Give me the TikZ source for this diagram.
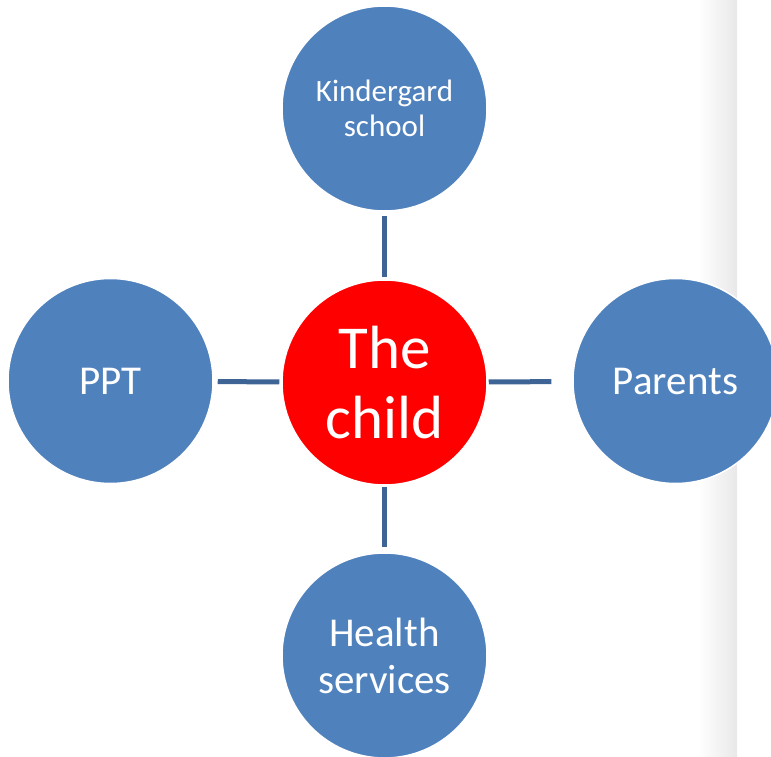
\documentclass[tikz,border=0pt]{standalone}
\usepackage{fontspec}
\setmainfont{Carlito}
\definecolor{petalblue}{RGB}{79,129,189}
\definecolor{stemblue}{RGB}{62,100,150}
\tikzset{
  petal/.style={circle,fill=petalblue,draw=white,line width=1.5pt,minimum size=205pt,inner sep=0pt,
    text=white,align=center,font=\fontsize{41}{47}\selectfont},
  core/.style={petal,fill=red,font=\fontsize{61}{70}\selectfont},
  stem/.style={draw=stemblue,line width=5pt}
}

\begin{document}
\begin{tikzpicture}[x=1pt,y=-1pt]
      \useasboundingbox (0,0) rectangle (771,757);
      \shade[left color=white,right color=black!9] (698,0) rectangle (737,757);
      \node[core] (C) at (384.5,382.5) {The\\child};
      \node[petal,font=\fontsize{31}{35}\selectfont] (K) at (384.5,108.5) {Kindergard\\school};
      \node[petal] (P) at (110.5,381) {PPT};
      \node[petal] (R) at (675.5,381) {Parents};
      \node[petal] (H) at (384.5,655.5) {Health\\services};
      \draw[stem,shorten <=4pt,shorten >=2pt] (K) -- (C);
      \draw[stem,shorten <=4pt,shorten >=2pt] (P) -- (C);
      \draw[stem,shorten <=1pt,shorten >=21pt] (C) -- (R);
      \draw[stem,shorten <=1pt,shorten >=5pt] (C) -- (H);
    \end{tikzpicture}
\end{document}
